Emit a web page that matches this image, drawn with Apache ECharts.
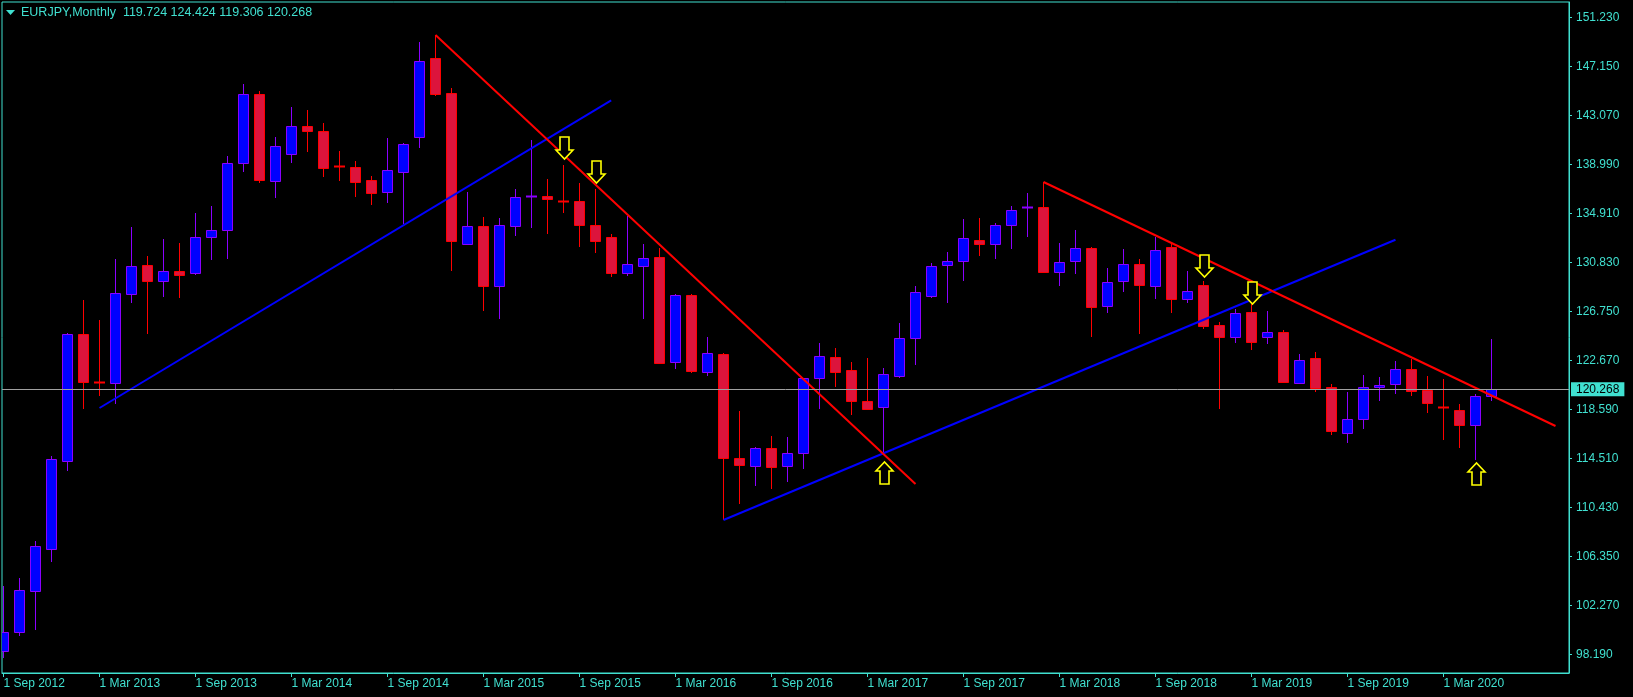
<!DOCTYPE html>
<html>
<head>
<meta charset="utf-8">
<title>EURJPY Monthly</title>
<script src="https://cdn.jsdelivr.net/npm/echarts/dist/echarts.min.js"></script>
<style>
  html, body { margin: 0; padding: 0; background: #000; }
  #chart { width: 1633px; height: 697px; }
</style>
</head>
<body>
<div id="chart"></div>
<script>
// ---------------- DATA ----------------
const symbolName = 'EURJPY';
const periodName = 'Monthly';

// month index 0 = Sep 2012 ... 93 = Jun 2020
const xTickIndex = [0, 6, 12, 18, 24, 30, 36, 42, 48, 54, 60, 66, 72, 78, 84, 90];
const xTickLabels = ['1 Sep 2012', '1 Mar 2013', '1 Sep 2013', '1 Mar 2014', '1 Sep 2014', '1 Mar 2015',
  '1 Sep 2015', '1 Mar 2016', '1 Sep 2016', '1 Mar 2017', '1 Sep 2017', '1 Mar 2018', '1 Sep 2018',
  '1 Mar 2019', '1 Sep 2019', '1 Mar 2020'];
const yTicks = [98.19, 102.27, 106.35, 110.43, 114.51, 118.59, 122.67, 126.75, 130.83, 134.91, 138.99, 143.07, 147.15, 151.23];

const opens = [
  98.49, 100.02, 103.49, 106.99, 114.27, 124.85, 120.87, 120.77, 128.23, 130.60,
  129.32, 130.10, 129.98, 132.93, 133.51, 139.15, 144.85, 137.65, 139.90, 142.18,
  141.76, 138.85, 138.77, 137.68, 136.73, 138.40, 141.26, 147.85, 144.93, 132.40,
  133.85, 128.90, 133.90, 136.30, 136.40, 135.95, 135.93, 133.93, 132.93, 129.98,
  130.57, 131.29, 122.57, 128.10, 121.73, 123.21, 114.54, 113.90, 115.35, 113.90,
  114.99, 121.18, 122.93, 121.85, 119.27, 118.77, 121.40, 124.52, 128.02, 130.60,
  130.93, 132.68, 132.35, 133.93, 135.44, 135.43, 130.07, 130.93, 132.02, 127.21,
  129.27, 130.68, 128.85, 132.10, 127.77, 128.93, 125.63, 124.60, 126.68, 124.60,
  125.02, 120.82, 122.85, 120.44, 116.60, 117.77, 120.44, 120.68, 121.93, 120.24,
  118.80, 118.54, 117.32, 119.724];
const highs = [
  103.88, 104.55, 107.63, 114.71, 124.98, 127.71, 126.04, 131.13, 133.77, 131.38,
  132.79, 132.46, 134.96, 135.54, 139.71, 145.71, 145.15, 141.29, 143.79, 143.54,
  142.46, 140.12, 139.29, 138.04, 141.21, 140.76, 149.21, 149.79, 145.35, 136.68,
  134.62, 134.52, 136.93, 141.01, 137.79, 138.96, 137.46, 136.96, 133.21, 134.73,
  132.37, 132.04, 128.21, 128.21, 124.65, 123.27, 118.46, 115.44, 116.38, 116.29,
  121.25, 124.13, 123.71, 122.52, 122.88, 122.04, 125.82, 128.90, 130.77, 131.71,
  134.46, 134.54, 134.12, 135.57, 136.62, 137.54, 132.46, 133.54, 132.10, 130.38,
  131.96, 131.13, 132.98, 132.43, 130.13, 129.29, 125.90, 126.93, 127.38, 126.79,
  125.21, 123.21, 123.38, 120.71, 120.04, 121.46, 121.29, 122.60, 122.77, 121.38,
  121.13, 119.04, 119.85, 124.424];
const lows = [
  97.91, 99.74, 100.24, 105.90, 113.49, 118.65, 119.74, 119.07, 127.48, 124.90,
  127.98, 127.90, 129.77, 131.07, 131.15, 138.40, 137.48, 136.23, 139.15, 140.07,
  137.98, 137.62, 136.32, 135.65, 135.82, 134.04, 140.40, 144.73, 130.15, 132.29,
  126.82, 126.10, 133.07, 133.73, 133.23, 134.98, 132.13, 131.60, 129.65, 129.73,
  126.13, 122.40, 121.96, 121.65, 121.40, 109.38, 110.74, 112.24, 111.99, 112.54,
  113.65, 118.63, 120.48, 118.15, 118.54, 114.94, 121.24, 122.32, 127.90, 127.48,
  129.29, 131.40, 131.15, 131.98, 132.98, 129.98, 128.90, 129.90, 124.60, 126.60,
  128.40, 124.85, 127.82, 126.60, 127.48, 125.29, 118.63, 124.15, 123.54, 124.04,
  120.85, 120.73, 120.02, 116.49, 115.82, 116.99, 119.27, 119.90, 119.74, 118.32,
  116.07, 115.38, 114.40, 119.306];
const closes = [
  100.02, 103.52, 107.19, 114.44, 124.85, 120.90, 120.82, 128.27, 130.52, 129.32,
  130.10, 129.77, 132.93, 133.54, 139.10, 144.85, 137.73, 140.52, 142.18, 141.76,
  138.73, 138.80, 137.57, 136.65, 138.52, 140.68, 147.60, 144.90, 132.65, 133.85,
  128.90, 133.93, 136.27, 136.34, 136.10, 135.91, 133.96, 132.65, 129.98, 130.68,
  131.18, 122.48, 128.10, 121.82, 123.27, 114.57, 113.99, 115.35, 113.82, 114.99,
  121.18, 123.04, 121.73, 119.27, 118.63, 121.52, 124.52, 128.35, 130.52, 130.93,
  132.87, 132.35, 133.93, 135.18, 135.48, 130.07, 130.85, 132.02, 127.15, 129.23,
  130.73, 128.93, 131.85, 127.77, 128.43, 125.57, 124.60, 126.60, 124.23, 125.02,
  120.90, 122.68, 120.40, 116.77, 117.77, 120.44, 120.63, 121.93, 120.15, 119.10,
  118.74, 117.32, 119.69, 120.268];

// signal arrows: [month index, price at arrow tip]
const downArrows = [[35, 139.43], [37, 137.48], [75, 129.60], [78, 127.38]];
const upArrows = [[55, 114.19], [92, 114.10]];

// trend lines: [month index, price]
const redTrend1 = [[27, 149.79], [57, 112.38]];
const blueTrend1 = [[6, 118.71], [37.98, 144.35]];
const blueTrend2 = [[45, 109.38], [87, 132.73]];
const redTrend2 = [[65, 137.54], [97, 117.21]];

// ---------------- STYLE ----------------
const FG = '#40E0D0';
const BULL_FILL = '#0000FF', BULL_EDGE = '#8B00FF';
const BEAR_FILL = '#DC143C', BEAR_EDGE = '#FF0000';
const FONT = '"Liberation Sans", Arial, sans-serif';

const X_MIN = -0.09375, X_MAX = 97.84375;
const Y_MAX = 152.538, Y_MIN = 96.631;

const candleData = opens.map((o, i) => [i, o, closes[i], lows[i], highs[i]]);
const arrowData = downArrows.map(a => [a[0], a[1], -1]).concat(upArrows.map(a => [a[0], a[1], 1]));
const lastIdx = closes.length - 1;

function renderCandle(params, api) {
  const i = api.value(0), o = api.value(1), c = api.value(2), l = api.value(3), h = api.value(4);
  const bull = c >= o;
  const edge = bull ? BULL_EDGE : BEAR_EDGE;
  const fill = bull ? BULL_FILL : BEAR_FILL;
  const pH = api.coord([i, h]), pL = api.coord([i, l]);
  const pO = api.coord([i, o]), pC = api.coord([i, c]);
  const x = Math.floor(pH[0]) + 0.5;
  const half = 5;
  const top = Math.round(Math.min(pO[1], pC[1])) + 0.5;
  const bot = Math.round(Math.max(pO[1], pC[1])) + 0.5;
  const children = [{
    type: 'line',
    shape: { x1: x, y1: Math.round(pH[1]), x2: x, y2: Math.round(pL[1]) },
    style: { stroke: edge, lineWidth: 1 }
  }];
  if (bot - top < 1.5) {
    children.push({
      type: 'line',
      shape: { x1: x - half - 0.5, y1: top, x2: x + half + 0.5, y2: top },
      style: { stroke: edge, lineWidth: 2 }
    });
  } else {
    children.push({
      type: 'rect',
      shape: { x: x - half, y: top, width: half * 2, height: bot - top },
      style: { fill: fill, stroke: edge, lineWidth: 1 }
    });
  }
  return { type: 'group', children: children };
}

function renderArrow(params, api) {
  const i = api.value(0), v = api.value(1), dir = api.value(2);
  const p = api.coord([i, v]);
  const tx = Math.round(p[0]) + 0.5, ty = Math.round(p[1]);
  const s = dir; // -1: points down (tip at bottom), 1: points up (tip at top)
  const pts = [
    [tx - 4.5, ty + s * 22], [tx + 4.5, ty + s * 22], [tx + 4.5, ty + s * 9],
    [tx + 8.5, ty + s * 9], [tx, ty], [tx - 8.5, ty + s * 9], [tx - 4.5, ty + s * 9]
  ];
  return {
    type: 'polygon',
    shape: { points: pts },
    style: { fill: '#000', stroke: '#FFFF00', lineWidth: 1.6 }
  };
}

function trend(data, color) {
  return {
    type: 'line', data: data, symbol: 'none', silent: true, z: 3,
    lineStyle: { color: color, width: 2 }, animation: false
  };
}

const chart = echarts.init(document.getElementById('chart'), null, { renderer: 'canvas' });
chart.setOption({
  backgroundColor: '#000',
  animation: false,
  grid: {
    left: 2, top: 2, right: 64, bottom: 24,
    show: true, borderColor: FG, borderWidth: 1, backgroundColor: 'transparent'
  },
  xAxis: {
    type: 'value', min: X_MIN, max: X_MAX,
    axisLine: { show: true, onZero: false, lineStyle: { color: FG } },
    splitLine: { show: false },
    axisTick: { show: true, length: 4, lineStyle: { color: FG }, customValues: xTickIndex },
    axisLabel: {
      show: true, customValues: xTickIndex, color: FG, fontFamily: FONT, fontSize: 12,
      align: 'left', margin: 5,
      formatter: v => xTickLabels[xTickIndex.indexOf(Math.round(v))] || ''
    }
  },
  yAxis: {
    type: 'value', position: 'right', min: Y_MIN, max: Y_MAX,
    axisLine: { show: true, onZero: false, lineStyle: { color: FG } },
    splitLine: { show: false },
    axisTick: { show: true, length: 3, lineStyle: { color: FG }, customValues: yTicks },
    axisLabel: {
      show: true, customValues: yTicks, color: FG, fontFamily: FONT, fontSize: 12,
      margin: 7, formatter: v => v.toFixed(3)
    }
  },
  graphic: [
    {
      type: 'polygon', left: 6, top: 10, silent: true,
      shape: { points: [[0, 0], [9, 0], [4.5, 5]] },
      style: { fill: FG }
    },
    {
      type: 'text', left: 21, top: 6, silent: true,
      style: {
        text: symbolName + ',' + periodName + '  ' +
          [opens[lastIdx], highs[lastIdx], lows[lastIdx], closes[lastIdx]].map(v => v.toFixed(3)).join(' '),
        fill: FG, font: '12.5px ' + FONT
      }
    }
  ],
  series: [
    {
      type: 'line', data: [], z: 1, silent: true,
      markLine: {
        silent: true, symbol: ['none', 'none'], animation: false, precision: 3,
        lineStyle: { color: '#A0A0A0', width: 1, type: 'solid' },
        label: {
          show: true, position: 'end', distance: 2,
          formatter: () => closes[lastIdx].toFixed(3),
          backgroundColor: FG, color: '#000', fontFamily: FONT, fontSize: 12,
          lineHeight: 12, padding: [1, 5, 1, 5]
        },
        data: [{ yAxis: closes[lastIdx] }]
      }
    },
    {
      type: 'custom', z: 2, clip: true, silent: true,
      renderItem: renderCandle,
      encode: { x: 0, y: [1, 2, 3, 4] },
      data: candleData
    },
    trend(blueTrend1, '#0000FF'),
    trend(blueTrend2, '#0000FF'),
    trend(redTrend1, '#FF0000'),
    trend(redTrend2, '#FF0000'),
    {
      type: 'custom', z: 4, silent: true,
      renderItem: renderArrow,
      encode: { x: 0, y: 1 },
      data: arrowData
    }
  ]
});
</script>
</body>
</html>
